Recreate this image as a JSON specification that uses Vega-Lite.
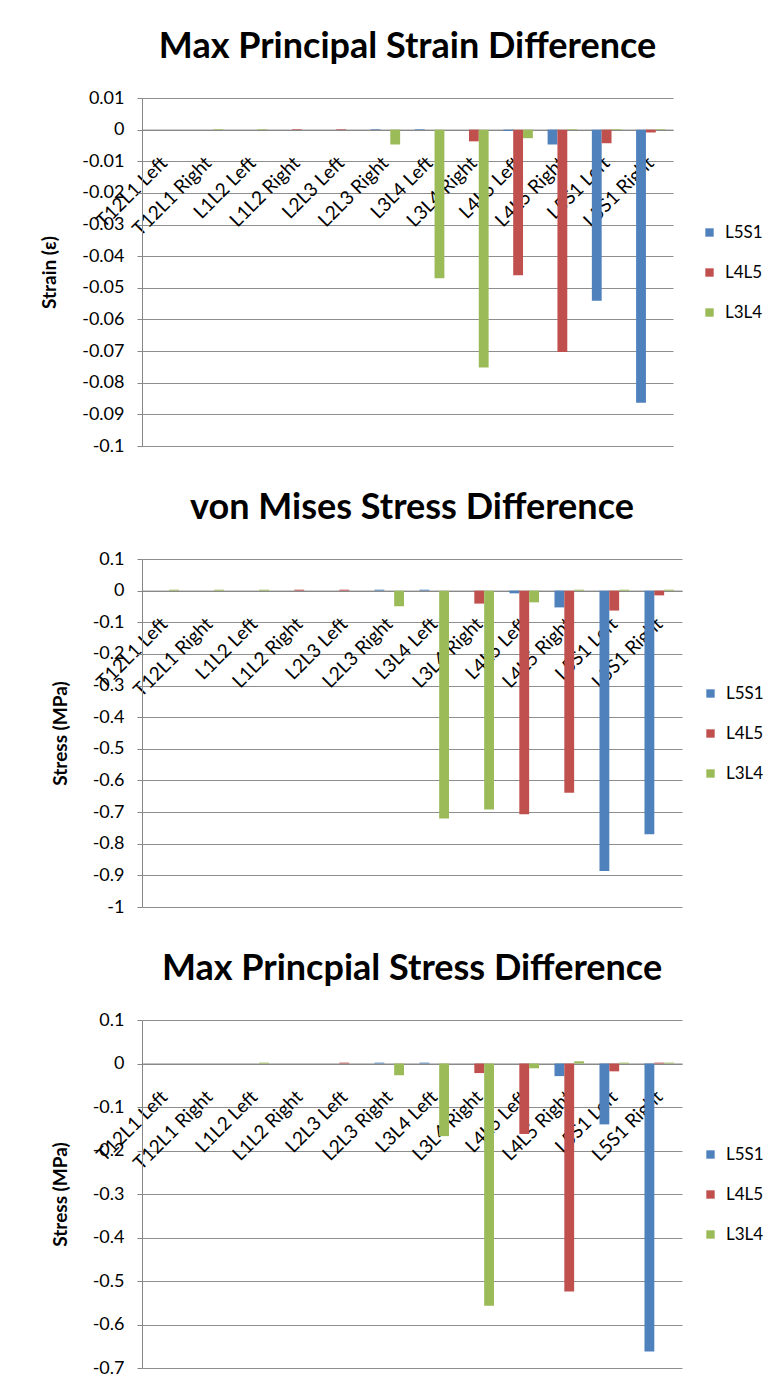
{
  "$schema": "https://vega.github.io/schema/vega-lite/v6.json",
  "background": "white",
  "padding": {"top": 29, "left": 40, "right": 0, "bottom": 0},
  "spacing": 35,
  "resolve": {"legend": {"color": "independent"}, "scale": {"color": "independent"}},
  "datasets": {
    "rows": [
      {"chart": "strain", "location": "T12L1 Left", "level": "L5S1", "value": 0},
      {"chart": "strain", "location": "T12L1 Left", "level": "L4L5", "value": 0},
      {"chart": "strain", "location": "T12L1 Left", "level": "L3L4", "value": 0},
      {"chart": "strain", "location": "T12L1 Right", "level": "L5S1", "value": 0},
      {"chart": "strain", "location": "T12L1 Right", "level": "L4L5", "value": 0},
      {"chart": "strain", "location": "T12L1 Right", "level": "L3L4", "value": 0.0002},
      {"chart": "strain", "location": "L1L2 Left", "level": "L5S1", "value": 0},
      {"chart": "strain", "location": "L1L2 Left", "level": "L4L5", "value": 0},
      {"chart": "strain", "location": "L1L2 Left", "level": "L3L4", "value": 0.0002},
      {"chart": "strain", "location": "L1L2 Right", "level": "L5S1", "value": 0},
      {"chart": "strain", "location": "L1L2 Right", "level": "L4L5", "value": 0.0002},
      {"chart": "strain", "location": "L1L2 Right", "level": "L3L4", "value": 0},
      {"chart": "strain", "location": "L2L3 Left", "level": "L5S1", "value": 0},
      {"chart": "strain", "location": "L2L3 Left", "level": "L4L5", "value": 0.0002},
      {"chart": "strain", "location": "L2L3 Left", "level": "L3L4", "value": 0},
      {"chart": "strain", "location": "L2L3 Right", "level": "L5S1", "value": 0.0002},
      {"chart": "strain", "location": "L2L3 Right", "level": "L4L5", "value": 0},
      {"chart": "strain", "location": "L2L3 Right", "level": "L3L4", "value": -0.0047},
      {"chart": "strain", "location": "L3L4 Left", "level": "L5S1", "value": 0.0002},
      {"chart": "strain", "location": "L3L4 Left", "level": "L4L5", "value": 0},
      {"chart": "strain", "location": "L3L4 Left", "level": "L3L4", "value": -0.047},
      {"chart": "strain", "location": "L3L4 Right", "level": "L5S1", "value": 0},
      {"chart": "strain", "location": "L3L4 Right", "level": "L4L5", "value": -0.0037},
      {"chart": "strain", "location": "L3L4 Right", "level": "L3L4", "value": -0.0752},
      {"chart": "strain", "location": "L4L5 Left", "level": "L5S1", "value": -0.0004},
      {"chart": "strain", "location": "L4L5 Left", "level": "L4L5", "value": -0.046},
      {"chart": "strain", "location": "L4L5 Left", "level": "L3L4", "value": -0.0027},
      {"chart": "strain", "location": "L4L5 Right", "level": "L5S1", "value": -0.0047},
      {"chart": "strain", "location": "L4L5 Right", "level": "L4L5", "value": -0.0703},
      {"chart": "strain", "location": "L4L5 Right", "level": "L3L4", "value": 0.0002},
      {"chart": "strain", "location": "L5S1 Left", "level": "L5S1", "value": -0.0541},
      {"chart": "strain", "location": "L5S1 Left", "level": "L4L5", "value": -0.0043},
      {"chart": "strain", "location": "L5S1 Left", "level": "L3L4", "value": 0.0002},
      {"chart": "strain", "location": "L5S1 Right", "level": "L5S1", "value": -0.0863},
      {"chart": "strain", "location": "L5S1 Right", "level": "L4L5", "value": -0.0009},
      {"chart": "strain", "location": "L5S1 Right", "level": "L3L4", "value": 0.0002},

      {"chart": "vm", "location": "T12L1 Left", "level": "L5S1", "value": 0},
      {"chart": "vm", "location": "T12L1 Left", "level": "L4L5", "value": 0},
      {"chart": "vm", "location": "T12L1 Left", "level": "L3L4", "value": 0.003},
      {"chart": "vm", "location": "T12L1 Right", "level": "L5S1", "value": 0},
      {"chart": "vm", "location": "T12L1 Right", "level": "L4L5", "value": 0},
      {"chart": "vm", "location": "T12L1 Right", "level": "L3L4", "value": 0.003},
      {"chart": "vm", "location": "L1L2 Left", "level": "L5S1", "value": 0},
      {"chart": "vm", "location": "L1L2 Left", "level": "L4L5", "value": 0},
      {"chart": "vm", "location": "L1L2 Left", "level": "L3L4", "value": 0.003},
      {"chart": "vm", "location": "L1L2 Right", "level": "L5S1", "value": 0},
      {"chart": "vm", "location": "L1L2 Right", "level": "L4L5", "value": 0.003},
      {"chart": "vm", "location": "L1L2 Right", "level": "L3L4", "value": 0},
      {"chart": "vm", "location": "L2L3 Left", "level": "L5S1", "value": 0},
      {"chart": "vm", "location": "L2L3 Left", "level": "L4L5", "value": 0.003},
      {"chart": "vm", "location": "L2L3 Left", "level": "L3L4", "value": 0},
      {"chart": "vm", "location": "L2L3 Right", "level": "L5S1", "value": 0.003},
      {"chart": "vm", "location": "L2L3 Right", "level": "L4L5", "value": 0},
      {"chart": "vm", "location": "L2L3 Right", "level": "L3L4", "value": -0.0496},
      {"chart": "vm", "location": "L3L4 Left", "level": "L5S1", "value": 0.003},
      {"chart": "vm", "location": "L3L4 Left", "level": "L4L5", "value": 0},
      {"chart": "vm", "location": "L3L4 Left", "level": "L3L4", "value": -0.72},
      {"chart": "vm", "location": "L3L4 Right", "level": "L5S1", "value": 0},
      {"chart": "vm", "location": "L3L4 Right", "level": "L4L5", "value": -0.041},
      {"chart": "vm", "location": "L3L4 Right", "level": "L3L4", "value": -0.692},
      {"chart": "vm", "location": "L4L5 Left", "level": "L5S1", "value": -0.0085},
      {"chart": "vm", "location": "L4L5 Left", "level": "L4L5", "value": -0.707},
      {"chart": "vm", "location": "L4L5 Left", "level": "L3L4", "value": -0.037},
      {"chart": "vm", "location": "L4L5 Right", "level": "L5S1", "value": -0.053},
      {"chart": "vm", "location": "L4L5 Right", "level": "L4L5", "value": -0.639},
      {"chart": "vm", "location": "L4L5 Right", "level": "L3L4", "value": 0.003},
      {"chart": "vm", "location": "L5S1 Left", "level": "L5S1", "value": -0.886},
      {"chart": "vm", "location": "L5S1 Left", "level": "L4L5", "value": -0.063},
      {"chart": "vm", "location": "L5S1 Left", "level": "L3L4", "value": 0.003},
      {"chart": "vm", "location": "L5S1 Right", "level": "L5S1", "value": -0.77},
      {"chart": "vm", "location": "L5S1 Right", "level": "L4L5", "value": -0.015},
      {"chart": "vm", "location": "L5S1 Right", "level": "L3L4", "value": 0.003},

      {"chart": "mps", "location": "T12L1 Left", "level": "L5S1", "value": 0},
      {"chart": "mps", "location": "T12L1 Left", "level": "L4L5", "value": 0},
      {"chart": "mps", "location": "T12L1 Left", "level": "L3L4", "value": 0},
      {"chart": "mps", "location": "T12L1 Right", "level": "L5S1", "value": 0},
      {"chart": "mps", "location": "T12L1 Right", "level": "L4L5", "value": 0},
      {"chart": "mps", "location": "T12L1 Right", "level": "L3L4", "value": 0},
      {"chart": "mps", "location": "L1L2 Left", "level": "L5S1", "value": 0},
      {"chart": "mps", "location": "L1L2 Left", "level": "L4L5", "value": 0},
      {"chart": "mps", "location": "L1L2 Left", "level": "L3L4", "value": 0.002},
      {"chart": "mps", "location": "L1L2 Right", "level": "L5S1", "value": 0},
      {"chart": "mps", "location": "L1L2 Right", "level": "L4L5", "value": 0},
      {"chart": "mps", "location": "L1L2 Right", "level": "L3L4", "value": 0},
      {"chart": "mps", "location": "L2L3 Left", "level": "L5S1", "value": 0},
      {"chart": "mps", "location": "L2L3 Left", "level": "L4L5", "value": 0.002},
      {"chart": "mps", "location": "L2L3 Left", "level": "L3L4", "value": 0},
      {"chart": "mps", "location": "L2L3 Right", "level": "L5S1", "value": 0.002},
      {"chart": "mps", "location": "L2L3 Right", "level": "L4L5", "value": 0},
      {"chart": "mps", "location": "L2L3 Right", "level": "L3L4", "value": -0.027},
      {"chart": "mps", "location": "L3L4 Left", "level": "L5S1", "value": 0.002},
      {"chart": "mps", "location": "L3L4 Left", "level": "L4L5", "value": 0},
      {"chart": "mps", "location": "L3L4 Left", "level": "L3L4", "value": -0.167},
      {"chart": "mps", "location": "L3L4 Right", "level": "L5S1", "value": 0},
      {"chart": "mps", "location": "L3L4 Right", "level": "L4L5", "value": -0.022},
      {"chart": "mps", "location": "L3L4 Right", "level": "L3L4", "value": -0.557},
      {"chart": "mps", "location": "L4L5 Left", "level": "L5S1", "value": 0},
      {"chart": "mps", "location": "L4L5 Left", "level": "L4L5", "value": -0.162},
      {"chart": "mps", "location": "L4L5 Left", "level": "L3L4", "value": -0.011},
      {"chart": "mps", "location": "L4L5 Right", "level": "L5S1", "value": -0.029},
      {"chart": "mps", "location": "L4L5 Right", "level": "L4L5", "value": -0.524},
      {"chart": "mps", "location": "L4L5 Right", "level": "L3L4", "value": 0.005},
      {"chart": "mps", "location": "L5S1 Left", "level": "L5S1", "value": -0.14},
      {"chart": "mps", "location": "L5S1 Left", "level": "L4L5", "value": -0.018},
      {"chart": "mps", "location": "L5S1 Left", "level": "L3L4", "value": 0.002},
      {"chart": "mps", "location": "L5S1 Right", "level": "L5S1", "value": -0.662},
      {"chart": "mps", "location": "L5S1 Right", "level": "L4L5", "value": 0.002},
      {"chart": "mps", "location": "L5S1 Right", "level": "L3L4", "value": 0.002}
    ]
  },
  "config": {
    "font": "Lato",
    "view": {"stroke": null},
    "title": {"fontSize": 36, "fontWeight": "bold", "color": "#000000", "baseline": "alphabetic", "offset": 23, "anchor": "middle"},
    "bar": {"strokeWidth": 0},
    "axisX": {"domainColor": "#868686", "ticks": false, "grid": false, "labelAngle": -45, "labelAlign": "right", "labelBaseline": "middle", "labelPadding": 30, "labelFontSize": 19, "labelColor": "#000000", "labelOverlap": false, "title": null, "zindex": 1},
    "axisY": {"domainColor": "#868686", "tickColor": "#868686", "tickSize": 5, "gridColor": "#8e8e8e", "labelFontSize": 18, "labelColor": "#000000", "labelPadding": 13, "titleFontSize": 19, "titleFontWeight": "bold", "titleColor": "#000000", "titlePadding": 22, "zindex": 0},
    "legend": {"orient": "none", "title": null, "symbolType": "square", "symbolSize": 70, "symbolStrokeWidth": 0, "labelFontSize": 17, "labelColor": "#000000", "rowPadding": 22, "labelOffset": 7, "padding": 0, "legendY": 126}
  },
  "vconcat": [
    {
      "width": 531,
      "height": 348,
      "title": "Max Principal Strain Difference",
      "data": {"name": "rows"},
      "transform": [{"filter": "datum.chart == 'strain'"}],
      "mark": {"type": "bar"},
      "encoding": {
        "x": {"field": "location", "type": "nominal", "sort": ["T12L1 Left", "T12L1 Right", "L1L2 Left", "L1L2 Right", "L2L3 Left", "L2L3 Right", "L3L4 Left", "L3L4 Right", "L4L5 Left", "L4L5 Right", "L5S1 Left", "L5S1 Right"], "scale": {"paddingInner": 0.333, "paddingOuter": 0.167}, "axis": {"offset": -316.4, "labelFontSize": 19, "labelAngle": -45, "labelAlign": "right", "labelBaseline": "middle", "labelPadding": 30}},
        "xOffset": {"field": "level", "type": "nominal", "sort": ["L5S1", "L4L5", "L3L4"], "scale": {"paddingInner": 0, "paddingOuter": 0}},
        "y": {"field": "value", "type": "quantitative", "scale": {"domain": [-0.1, 0.01], "nice": false, "zero": false}, "axis": {"title": "Strain (ε)", "titleFontSize": 19, "titleFontWeight": "bold", "titlePadding": 22, "labelFontSize": 18, "values": [0.01, 0, -0.01, -0.02, -0.03, -0.04, -0.05, -0.06, -0.07, -0.08, -0.09, -0.1], "labelExpr": "datum.value < -1e-9 ? '-' + format(-datum.value, '~g') : format(datum.value, '~g')"}},
        "color": {"field": "level", "type": "nominal", "sort": ["L5S1", "L4L5", "L3L4"], "scale": {"domain": ["L5S1", "L4L5", "L3L4"], "range": ["#4F81BD", "#C0504D", "#9BBB59"]}, "legend": {"legendX": 559}}
      }
    },
    {
      "width": 540,
      "height": 348,
      "title": "von Mises Stress Difference",
      "data": {"name": "rows"},
      "transform": [{"filter": "datum.chart == 'vm'"}],
      "mark": {"type": "bar"},
      "encoding": {
        "x": {"field": "location", "type": "nominal", "sort": ["T12L1 Left", "T12L1 Right", "L1L2 Left", "L1L2 Right", "L2L3 Left", "L2L3 Right", "L3L4 Left", "L3L4 Right", "L4L5 Left", "L4L5 Right", "L5S1 Left", "L5S1 Right"], "scale": {"paddingInner": 0.333, "paddingOuter": 0.167}, "axis": {"offset": -316.4, "labelFontSize": 19, "labelAngle": -45, "labelAlign": "right", "labelBaseline": "middle", "labelPadding": 30}},
        "xOffset": {"field": "level", "type": "nominal", "sort": ["L5S1", "L4L5", "L3L4"], "scale": {"paddingInner": 0, "paddingOuter": 0}},
        "y": {"field": "value", "type": "quantitative", "scale": {"domain": [-1, 0.1], "nice": false, "zero": false}, "axis": {"title": "Stress (MPa)", "titleFontSize": 19, "titleFontWeight": "bold", "titlePadding": 22, "labelFontSize": 18, "values": [0.1, 0, -0.1, -0.2, -0.3, -0.4, -0.5, -0.6, -0.7, -0.8, -0.9, -1], "labelExpr": "datum.value < -1e-9 ? '-' + format(-datum.value, '~g') : format(datum.value, '~g')"}},
        "color": {"field": "level", "type": "nominal", "sort": ["L5S1", "L4L5", "L3L4"], "scale": {"domain": ["L5S1", "L4L5", "L3L4"], "range": ["#4F81BD", "#C0504D", "#9BBB59"]}, "legend": {"legendX": 560}}
      }
    },
    {
      "width": 540,
      "height": 348,
      "title": "Max Princpial Stress Difference",
      "data": {"name": "rows"},
      "transform": [{"filter": "datum.chart == 'mps'"}],
      "mark": {"type": "bar"},
      "encoding": {
        "x": {"field": "location", "type": "nominal", "sort": ["T12L1 Left", "T12L1 Right", "L1L2 Left", "L1L2 Right", "L2L3 Left", "L2L3 Right", "L3L4 Left", "L3L4 Right", "L4L5 Left", "L4L5 Right", "L5S1 Left", "L5S1 Right"], "scale": {"paddingInner": 0.333, "paddingOuter": 0.167}, "axis": {"offset": -304.5, "labelFontSize": 19, "labelAngle": -45, "labelAlign": "right", "labelBaseline": "middle", "labelPadding": 30}},
        "xOffset": {"field": "level", "type": "nominal", "sort": ["L5S1", "L4L5", "L3L4"], "scale": {"paddingInner": 0, "paddingOuter": 0}},
        "y": {"field": "value", "type": "quantitative", "scale": {"domain": [-0.7, 0.1], "nice": false, "zero": false}, "axis": {"title": "Stress (MPa)", "titleFontSize": 19, "titleFontWeight": "bold", "titlePadding": 22, "labelFontSize": 18, "values": [0.1, 0, -0.1, -0.2, -0.3, -0.4, -0.5, -0.6, -0.7], "labelExpr": "datum.value < -1e-9 ? '-' + format(-datum.value, '~g') : format(datum.value, '~g')"}},
        "color": {"field": "level", "type": "nominal", "sort": ["L5S1", "L4L5", "L3L4"], "scale": {"domain": ["L5S1", "L4L5", "L3L4"], "range": ["#4F81BD", "#C0504D", "#9BBB59"]}, "legend": {"legendX": 560}}
      }
    }
  ]
}
